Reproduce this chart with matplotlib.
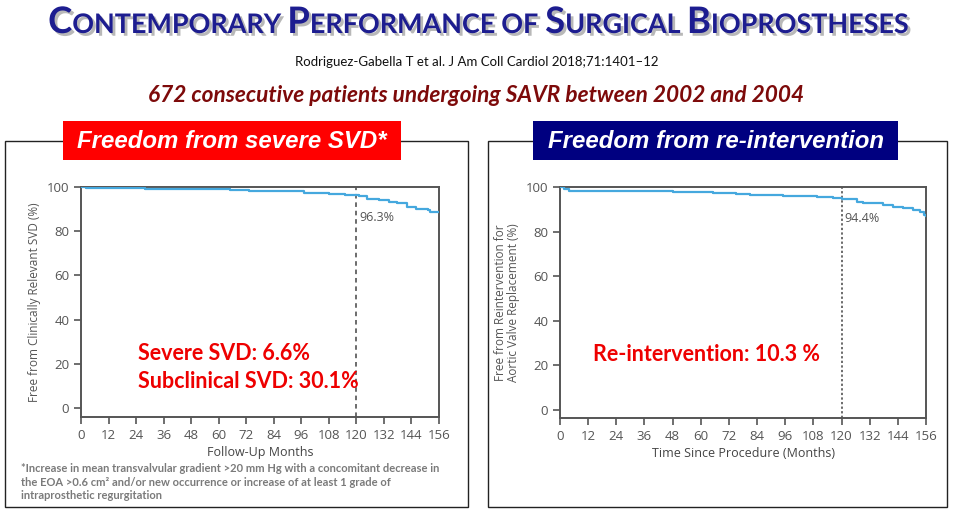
import matplotlib
matplotlib.use("Agg")
import matplotlib.pyplot as plt
import matplotlib.patheffects as pe
from matplotlib.patches import Rectangle

W, H = 955, 522

# Kaplan-Meier curves (months, % free from event)
months_svd = [0, 2, 28, 65, 73, 90, 97, 104, 108, 115, 121, 124.6, 130, 134, 137.6, 142, 146, 151, 152.2, 156]
free_svd = [100, 99.6, 99.1, 98.7, 98.3, 98.0, 97.5, 97.2, 96.8, 96.5, 96.1, 94.6, 93.9, 93.3, 92.6, 90.9, 90.1, 89.7, 88.5, 88.5]

months_reint = [0, 1.5, 4, 12.5, 48, 65, 75, 81, 95, 109.5, 116.5, 120, 126.6, 129, 137.7, 142, 146, 150.5, 153.5, 155, 156]
free_reint = [100, 99.3, 98.4, 98.0, 97.6, 97.2, 96.7, 96.4, 96.1, 95.6, 94.9, 94.4, 93.4, 92.7, 91.9, 90.9, 90.4, 89.7, 88.8, 87.6, 86.8]

x_ticks = list(range(0, 157, 12))
y_ticks = [0, 20, 40, 60, 80, 100]
landmark = 120
label_svd = "96.3%"
label_reint = "94.4%"

title = "CONTEMPORARY PERFORMANCE OF SURGICAL BIOPROSTHESES"
reference = "Rodriguez-Gabella T et al. J Am Coll Cardiol 2018;71:1401\u201312"
cohort = "672 consecutive patients undergoing SAVR between 2002 and 2004"
footnote = ("*Increase in mean transvalvular gradient >20 mm Hg with a concomitant decrease in\n"
            "the EOA >0.6 cm\u00b2 and/or new occurrence or increase of at least 1 grade of\n"
            "intraprosthetic regurgitation")

CURVE = "#45a8de"
GREY = "#555555"
RED = "#ee0000"
HEAD = "Lato"
CHART = "Open Sans"


def fx(x):
    return x / W


def fy(y):
    return 1 - y / H


fig = plt.figure(figsize=(W / 100, H / 100), dpi=100)
fig.patch.set_facecolor("white")


def small_caps(text, cx, y, big, small, color):
    """Draw an upper-case string with large first letters, centred on cx."""
    r = fig.canvas.get_renderer()
    gap = 0.26 * small * 100 / 72
    shadow = [pe.withSimplePatchShadow(offset=(2, -2), shadow_rgbFace="#8a8a8a", alpha=0.6)]
    pieces = []
    for word in text.split(" "):
        if len(word) <= 2:
            runs = [(word, small)]
        else:
            runs = [(word[0], big), (word[1:], small)]
        for k, (s, size) in enumerate(runs):
            t = fig.text(0, fy(y), s, fontsize=size, color=color, family=HEAD,
                         weight="bold", va="baseline", ha="left", path_effects=shadow)
            w = t.get_window_extent(r).width
            pieces.append((t, w + (gap if (k == len(runs) - 1) else 0)))
    total = sum(w for _, w in pieces) - gap
    x = cx - total / 2
    for t, w in pieces:
        t.set_x(fx(x))
        x += w


small_caps(title, 478, 33, 26.3, 19.4, "#1d1d90")
fig.text(fx(477), fy(62), reference, fontsize=9.5, family=HEAD, ha="center", va="center", color="#111111")
fig.text(fx(476), fy(95), cohort, fontsize=16.3, family=HEAD, weight="bold", style="italic",
         ha="center", va="center", color="#7d0a0a")

# panel frames
for x0, x1 in [(5, 468), (488, 947)]:
    fig.patches.append(Rectangle((fx(x0), fy(507)), fx(x1 - x0), (507 - 141) / H,
                                 transform=fig.transFigure, fill=False, ec="#222222", lw=1.0))

# panel headers
for (x0, x1), colour, text in [((63, 401), "#ff0000", "Freedom from severe SVD*"),
                               ((533, 898), "#000080", "Freedom from re-intervention")]:
    fig.patches.append(Rectangle((fx(x0), fy(160)), fx(x1 - x0), (160 - 121) / H,
                                 transform=fig.transFigure, fc=colour, ec="none", zorder=3))
    fig.text(fx((x0 + x1) / 2), fy(141), text, fontsize=17.3, family="Liberation Sans", weight="bold",
             style="italic", color="white", ha="center", va="center", zorder=4)


def km_axes(rect, months, free, ylim, note, ls, ylabel, xlabel):
    ax = fig.add_axes(rect)
    ax.plot(months, free, drawstyle="steps-post", color=CURVE, lw=1.6, zorder=3)
    ax.axvline(landmark, color="#444444", lw=1.1, ls=ls)
    ax.text(landmark + 1.2, 86, note, fontsize=9, color=GREY, family=CHART, va="center")
    ax.set_xlim(0, 156)
    ax.set_ylim(*ylim)
    ax.set_xticks(x_ticks)
    ax.set_yticks(y_ticks)
    for s in ax.spines.values():
        s.set_color(GREY)
        s.set_linewidth(1.4)
    ax.tick_params(colors=GREY, labelsize=9.5, length=5, width=1.2, direction="out")
    for t in ax.get_xticklabels() + ax.get_yticklabels():
        t.set_family(CHART)
    ax.set_ylabel(ylabel, fontsize=8.5, color=GREY, family=CHART, labelpad=4, linespacing=1.0)
    ax.set_xlabel(xlabel, fontsize=9, color="#444444", family=CHART, labelpad=3)
    return ax


ax1 = km_axes([fx(81), fy(417), fx(439 - 81), (417 - 187) / H], months_svd, free_svd, (-4, 100),
              label_svd, (0, (3, 2.5)), "Free from Clinically Relevant SVD (%)", "Follow-Up Months")
ax2 = km_axes([fx(560), fy(418), fx(926 - 560), (418 - 187) / H], months_reint, free_reint, (-3.6, 100),
              label_reint, (0, (1.5, 1.5)),
              "Free from Reintervention for\nAortic Valve Replacement (%)", "Time Since Procedure (Months)")

ax1.text(25, 24.5, "Severe SVD: 6.6%", fontsize=15.5, family=HEAD, weight="bold", color=RED, va="center")
ax1.text(25, 12, "Subclinical SVD: 30.1%", fontsize=15.5, family=HEAD, weight="bold", color=RED, va="center")
ax2.text(14, 25, "Re-intervention: 10.3 %", fontsize=15.5, family=HEAD, weight="bold", color=RED, va="center")

fig.text(fx(21), fy(463), footnote, fontsize=8.0, family=HEAD, weight="bold", color="#7a7a7a",
         va="top", ha="left", linespacing=1.3)

fig.savefig("out.png", dpi=100)
